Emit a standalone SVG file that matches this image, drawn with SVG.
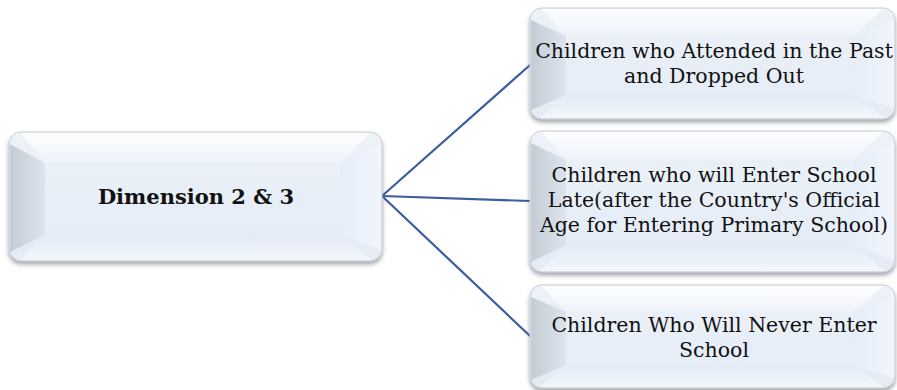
<svg xmlns="http://www.w3.org/2000/svg" width="897" height="390" viewBox="0 0 897 390">
  <style>
    .edge { stroke: #3a5d9f; stroke-width: 2.2; fill: none; stroke-linecap: round; }
    .lbl { font-family: "DejaVu Serif", "Liberation Serif", serif; font-size: 20.5px; fill: #111; text-anchor: middle; }
    .bold { font-weight: bold; font-size: 21px; }
    .frame { fill: url(#face); stroke: #c9ced6; stroke-width: 1; filter: url(#shadow); }
    .bl { fill: url(#leftBand); }
    .bt { fill: url(#topBand); }
    .br { fill: url(#rightBand); }
    .bb { fill: url(#bottomBand); }
  </style>
  <defs>
    <filter id="shadow" x="-5%" y="-10%" width="110%" height="130%">
      <feDropShadow dx="0" dy="3" stdDeviation="2" flood-color="#5a5f66" flood-opacity="0.55"/>
    </filter>
    <linearGradient id="face" x1="0" y1="0" x2="0" y2="1">
      <stop offset="0" stop-color="#edf2f9"/>
      <stop offset="1" stop-color="#e4ebf5"/>
    </linearGradient>
    <linearGradient id="leftBand" x1="0" y1="0" x2="1" y2="0">
      <stop offset="0" stop-color="#c4ccd6"/>
      <stop offset="1" stop-color="#dde4ee"/>
    </linearGradient>
    <linearGradient id="topBand" x1="0" y1="0" x2="0" y2="1">
      <stop offset="0" stop-color="#fdfeff"/>
      <stop offset="1" stop-color="#eef3fa"/>
    </linearGradient>
    <linearGradient id="rightBand" x1="0" y1="0" x2="1" y2="0">
      <stop offset="0" stop-color="#e6edf7"/>
      <stop offset="1" stop-color="#f1f6fd"/>
    </linearGradient>
    <linearGradient id="bottomBand" x1="0" y1="0" x2="0" y2="1">
      <stop offset="0" stop-color="#e4ebf5"/>
      <stop offset="1" stop-color="#f3f7fc"/>
    </linearGradient>
  </defs>

  <!-- connectors -->
  <g id="connectors">
    <line class="edge" x1="382" y1="196" x2="530" y2="65"/>
    <line class="edge" x1="382" y1="196" x2="530" y2="201"/>
    <line class="edge" x1="382" y1="196" x2="530" y2="336"/>
  </g>

  <!-- root node -->
  <g id="node-dimension">
    <rect class="frame" x="9" y="132" width="373" height="129" rx="12"/>
    <path class="bt" d="M21,133 H370 L340,163 H45 Z"/>
    <path class="bl" d="M10,144 L45,163 V235 L10,252 Z"/>
    <path class="br" d="M381,144 L340,163 V235 L381,250 Z"/>
    <path class="bb" d="M45,235 H340 L372,260 H20 Z"/>
    <text class="lbl bold" x="196" y="204">Dimension 2 &amp; 3</text>
  </g>

  <!-- leaf nodes -->
  <g id="node-dropped-out">
    <rect class="frame" x="530" y="8" width="365" height="111" rx="12"/>
    <path class="bt" d="M542,9 H883 L853,36 H566 Z"/>
    <path class="bl" d="M531,20 L566,36 V95 L531,110 Z"/>
    <path class="br" d="M894,20 L853,36 V95 L894,108 Z"/>
    <path class="bb" d="M566,95 H853 L885,118 H540 Z"/>
    <text class="lbl" x="714" y="58">Children who Attended in the Past</text>
    <text class="lbl" x="714" y="83">and Dropped Out</text>
  </g>

  <g id="node-enter-late">
    <rect class="frame" x="530" y="131" width="365" height="141" rx="12"/>
    <path class="bt" d="M542,132 H883 L853,160 H566 Z"/>
    <path class="bl" d="M531,143 L566,160 V245 L531,262 Z"/>
    <path class="br" d="M894,143 L853,160 V245 L894,260 Z"/>
    <path class="bb" d="M566,245 H853 L885,271 H540 Z"/>
    <text class="lbl" x="714" y="182">Children who will Enter School</text>
    <text class="lbl" x="714" y="207">Late(after the Country's Official</text>
    <text class="lbl" x="714" y="232">Age for Entering Primary School)</text>
  </g>

  <g id="node-never-enter">
    <rect class="frame" x="530" y="285" width="365" height="103" rx="12"/>
    <path class="bt" d="M542,286 H883 L853,312 H566 Z"/>
    <path class="bl" d="M531,297 L566,312 V365 L531,380 Z"/>
    <path class="br" d="M894,297 L853,312 V365 L894,378 Z"/>
    <path class="bb" d="M566,365 H853 L885,387 H540 Z"/>
    <text class="lbl" x="714" y="332">Children Who Will Never Enter</text>
    <text class="lbl" x="714" y="357">School</text>
  </g>
</svg>
